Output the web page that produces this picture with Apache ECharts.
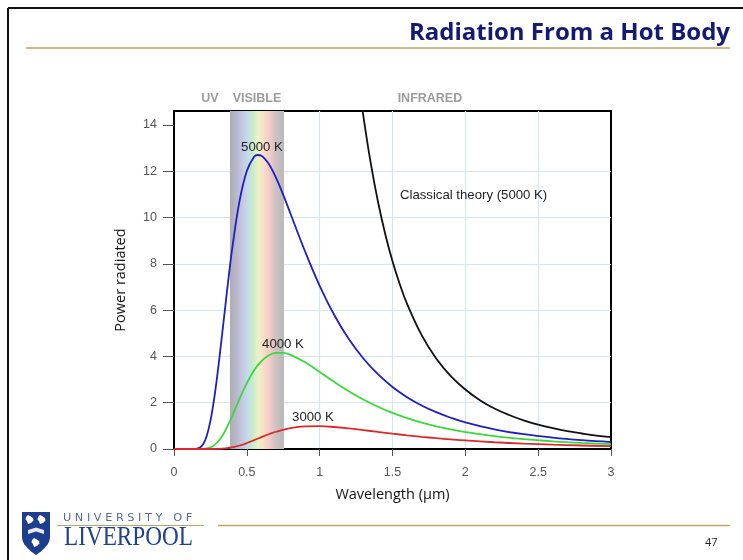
<!DOCTYPE html>
<html>
<head>
<meta charset="utf-8">
<script src="https://cdn.jsdelivr.net/npm/echarts@6/dist/echarts.min.js"></script>
<style>
  html, body { margin: 0; padding: 0; background: #fff; }
  #chart { width: 743px; height: 560px; }
</style>
</head>
<body>
<div id="chart"></div>
<script>
// Spectral power curves (wavelength in µm, power in arbitrary units)
const wavelength5000 = [0, 0.1, 0.15, 0.175, 0.2, 0.225, 0.25, 0.275, 0.3, 0.325, 0.35, 0.375, 0.4, 0.45, 0.5, 0.55, 0.575, 0.6, 0.65, 0.7, 0.75, 0.8, 0.9, 1.0, 1.1, 1.2, 1.3, 1.4, 1.5, 1.6, 1.7, 1.8, 1.9, 2.0, 2.2, 2.4, 2.6, 2.8, 3.0];
const power5000 = [0, 0, 0.007, 0.052, 0.208, 0.572, 1.213, 2.145, 3.321, 4.657, 6.046, 7.414, 8.676, 10.72, 12.01, 12.62, 12.70, 12.67, 12.32, 11.72, 10.98, 10.16, 8.53, 7.05, 5.79, 4.75, 3.91, 3.23, 2.68, 2.24, 1.88, 1.59, 1.35, 1.15, 0.85, 0.64, 0.49, 0.38, 0.30];

const wavelength4000 = [0, 0.15, 0.2, 0.25, 0.275, 0.3, 0.325, 0.35, 0.375, 0.4, 0.45, 0.5, 0.55, 0.6, 0.65, 0.7, 0.75, 0.8, 0.9, 1.0, 1.1, 1.2, 1.3, 1.4, 1.5, 1.6, 1.7, 1.8, 1.9, 2.0, 2.2, 2.4, 2.6, 2.8, 3.0];
const power4000 = [0, 0, 0.006, 0.068, 0.157, 0.302, 0.509, 0.775, 1.088, 1.435, 2.164, 2.843, 3.397, 3.796, 4.041, 4.149, 4.151, 4.067, 3.747, 3.331, 2.900, 2.496, 2.135, 1.823, 1.557, 1.331, 1.141, 0.981, 0.846, 0.733, 0.555, 0.427, 0.333, 0.263, 0.210];

const wavelength3000 = [0, 0.25, 0.3, 0.35, 0.4, 0.45, 0.5, 0.55, 0.6, 0.65, 0.7, 0.8, 0.9, 1.0, 1.1, 1.2, 1.3, 1.4, 1.5, 1.6, 1.7, 1.8, 1.9, 2.0, 2.2, 2.4, 2.6, 2.8, 3.0];
const power3000 = [0, 0, 0.006, 0.025, 0.072, 0.151, 0.258, 0.384, 0.514, 0.637, 0.745, 0.901, 0.975, 0.985, 0.950, 0.889, 0.816, 0.739, 0.663, 0.592, 0.527, 0.468, 0.416, 0.369, 0.292, 0.233, 0.187, 0.151, 0.123];

const wavelengthClassical = [1.28, 1.3, 1.35, 1.4, 1.45, 1.5, 1.55, 1.6, 1.7, 1.8, 1.9, 2.0, 2.1, 2.2, 2.3, 2.4, 2.5, 2.6, 2.7, 2.8, 2.9, 3.0];
const powerClassical = [15.30, 14.38, 12.37, 10.69, 9.29, 8.11, 7.12, 6.27, 4.92, 3.91, 3.15, 2.57, 2.11, 1.75, 1.47, 1.24, 1.05, 0.90, 0.77, 0.67, 0.58, 0.51];

// Visible band limits (µm)
const visibleBand = [0.384, 0.755];

// Axis ticks
const xTicks = [0, 0.5, 1, 1.5, 2, 2.5, 3];
const yTicks = [0, 2, 4, 6, 8, 10, 12, 14];

// Label anchors [x, y] in data units
const curveLabels = [
  { text: '5000 K', at: [0.604, 13.02] },
  { text: '4000 K', at: [0.748, 4.5] },
  { text: '3000 K', at: [0.954, 1.36] }
];
const classicalLabel = { text: 'Classical theory (5000 K)', at: [1.551, 10.95] };
const regionLabels = [
  { text: 'UV', at: [0.247, 15.15] },
  { text: 'VISIBLE', at: [0.570, 15.15] },
  { text: 'INFRARED', at: [1.757, 15.15] }
];

const pairs = (xs, ys) => xs.map((x, i) => [x, ys[i]]);

const chart = echarts.init(document.getElementById('chart'), null, { renderer: 'canvas' });

const labelFont = 'Liberation Sans, Arial, sans-serif';

const labelPoint = (l, align) => ({
  coord: l.at,
  symbol: 'circle',
  symbolSize: 0,
  label: {
    show: true,
    formatter: l.text,
    position: 'inside',
    align: align || 'center',
    verticalAlign: 'middle',
    color: '#222',
    fontSize: 13.2,
    fontFamily: labelFont
  }
});

const lineSeries = (name, data, color, labels) => ({
  name: name,
  type: 'line',
  data: data,
  smooth: 0.4,
  showSymbol: false,
  symbol: 'none',
  z: 3,
  lineStyle: { color: color, width: 1.8 },
  markPoint: labels ? { silent: true, data: labels } : undefined
});

// Crest outline (shield) and white emblems
const shieldPoints = [[0, 0], [28, 0], [28, 25], [27.4, 29], [25.6, 32.6], [22.6, 36], [18.6, 39.8], [14, 43], [9.4, 39.8], [5.4, 36], [2.4, 32.6], [0.6, 29], [0, 25]];
const birdShape = (dx, dy) => [[4, 5], [6, 3], [8, 4], [11, 6], [11.5, 8.5], [9, 11], [6, 12], [5, 9], [3.5, 7.5]].map(p => [p[0] + dx, p[1] + dy]);

const slideGraphics = [
  // slide frame edges
  { type: 'line', shape: { x1: 8, y1: 8, x2: 743, y2: 8 }, style: { stroke: '#111', lineWidth: 2 } },
  { type: 'line', shape: { x1: 8, y1: 8, x2: 8, y2: 560 }, style: { stroke: '#111', lineWidth: 2 } },
  // heading
  {
    type: 'text', x: 730, y: 33,
    style: { text: 'Radiation From a Hot Body', fill: '#141a72', font: 'bold 24px "Open Sans", sans-serif', align: 'right', verticalAlign: 'middle' }
  },
  { type: 'line', shape: { x1: 26, y1: 48, x2: 730, y2: 48 }, style: { stroke: '#c2a466', lineWidth: 1.5 } },
  // footer
  { type: 'line', shape: { x1: 57, y1: 525.5, x2: 204, y2: 525.5 }, style: { stroke: '#c2a466', lineWidth: 1.2 } },
  { type: 'line', shape: { x1: 218, y1: 525.5, x2: 730, y2: 525.5 }, style: { stroke: '#c2a466', lineWidth: 1.5 } },
  {
    type: 'text', x: 63, y: 518, scaleX: 1.13,
    style: { text: 'U N I V E R S I T Y   O F', fill: '#5a6a90', font: '10px "DejaVu Sans", sans-serif', verticalAlign: 'middle' }
  },
  {
    type: 'text', x: 64, y: 538, scaleX: 0.86,
    style: { text: 'LIVERPOOL', fill: '#1f3f8f', font: '27px "Liberation Serif", serif', verticalAlign: 'middle' }
  },
  {
    type: 'text', x: 705, y: 543,
    style: { text: '47', fill: '#222', font: '11px "Open Sans", sans-serif', verticalAlign: 'middle' }
  },
  // crest
  {
    type: 'group', x: 22, y: 512,
    children: [
      { type: 'polygon', shape: { points: shieldPoints }, style: { fill: '#1d3d8f' } },
      { type: 'polygon', shape: { points: birdShape(0, 0) }, style: { fill: '#fff' } },
      { type: 'polygon', shape: { points: birdShape(12, 0) }, style: { fill: '#fff' } },
      { type: 'polygon', shape: { points: [[6, 18], [14, 15.5], [22, 18], [22, 22], [14, 19.5], [6, 22]] }, style: { fill: '#e8e8ee' } },
      { type: 'polygon', shape: { points: birdShape(6, 23) }, style: { fill: '#fff' } }
    ]
  }
];

const option = {
  animation: false,
  backgroundColor: '#ffffff',
  grid: {
    left: 174, right: 132, top: 111, bottom: 111,
    show: true, borderColor: '#000', borderWidth: 2, backgroundColor: 'transparent'
  },
  xAxis: {
    type: 'value',
    min: 0, max: 3, interval: 0.5,
    name: 'Wavelength (µm)',
    nameLocation: 'middle',
    nameGap: 38,
    nameTextStyle: { color: '#111', fontSize: 14.5, fontFamily: 'Open Sans, sans-serif' },
    axisLine: { show: true, lineStyle: { color: '#000', width: 2 } },
    axisTick: { show: true, length: 7, lineStyle: { color: '#555' }, customValues: xTicks },
    axisLabel: { color: '#555', fontSize: 12.5, margin: 17, fontFamily: labelFont, customValues: xTicks },
    splitLine: { show: true, showMinLine: false, showMaxLine: false, lineStyle: { color: '#d4e6ef', width: 1.2 } }
  },
  yAxis: {
    type: 'value',
    min: 0, max: 14.6, interval: 2,
    name: 'Power radiated',
    nameLocation: 'middle',
    nameGap: 46,
    nameRotate: 90,
    nameTextStyle: { color: '#111', fontSize: 14.5, fontFamily: 'Open Sans, sans-serif' },
    axisLine: { show: true, lineStyle: { color: '#000', width: 2 } },
    axisTick: { show: true, length: 11, lineStyle: { color: '#555' }, customValues: yTicks },
    axisLabel: {
      color: '#555', fontSize: 12.5, margin: 17, fontFamily: labelFont,
      customValues: yTicks,
      formatter: v => (v % 2 === 0 ? String(v) : '')
    },
    splitLine: { show: true, showMinLine: false, showMaxLine: false, lineStyle: { color: '#d4e6ef', width: 1.2 } }
  },
  series: [
    {
      name: 'Visible band',
      type: 'line',
      data: [],
      z: 1,
      silent: true,
      markArea: {
        silent: true,
        itemStyle: {
          color: new echarts.graphic.LinearGradient(0, 0, 1, 0, [
            { offset: 0.00, color: '#adadb2' },
            { offset: 0.10, color: '#b7b6c6' },
            { offset: 0.22, color: '#c6c5e2' },
            { offset: 0.33, color: '#c3dcea' },
            { offset: 0.43, color: '#c8eec8' },
            { offset: 0.52, color: '#eaf3c6' },
            { offset: 0.60, color: '#f7e2c8' },
            { offset: 0.72, color: '#f5cdc8' },
            { offset: 0.84, color: '#d0c2c2' },
            { offset: 1.00, color: '#b8b8b8' }
          ])
        },
        data: [[{ xAxis: visibleBand[0] }, { xAxis: visibleBand[1] }]]
      }
    },
    lineSeries('5000 K', pairs(wavelength5000, power5000), '#1f1fc4', [labelPoint(curveLabels[0])]),
    lineSeries('4000 K', pairs(wavelength4000, power4000), '#3ad93a', [labelPoint(curveLabels[1])]),
    lineSeries('3000 K', pairs(wavelength3000, power3000), '#dc2a2a', [labelPoint(curveLabels[2])]),
    lineSeries('Classical theory', pairs(wavelengthClassical, powerClassical), '#111111', [labelPoint(classicalLabel, 'left')])
  ],
  graphic: slideGraphics
};

chart.setOption(option);

// Spectral region captions above the plot, placed through the axis scales
const regionGraphics = regionLabels.map(l => {
  const p = chart.convertToPixel({ gridIndex: 0 }, l.at);
  return {
    type: 'text', x: p[0], y: p[1],
    style: { text: l.text, fill: '#9c9c9c', font: 'bold 12.5px ' + labelFont, align: 'center', verticalAlign: 'middle' }
  };
});
chart.setOption({ graphic: slideGraphics.concat(regionGraphics) });
</script>
</body>
</html>
